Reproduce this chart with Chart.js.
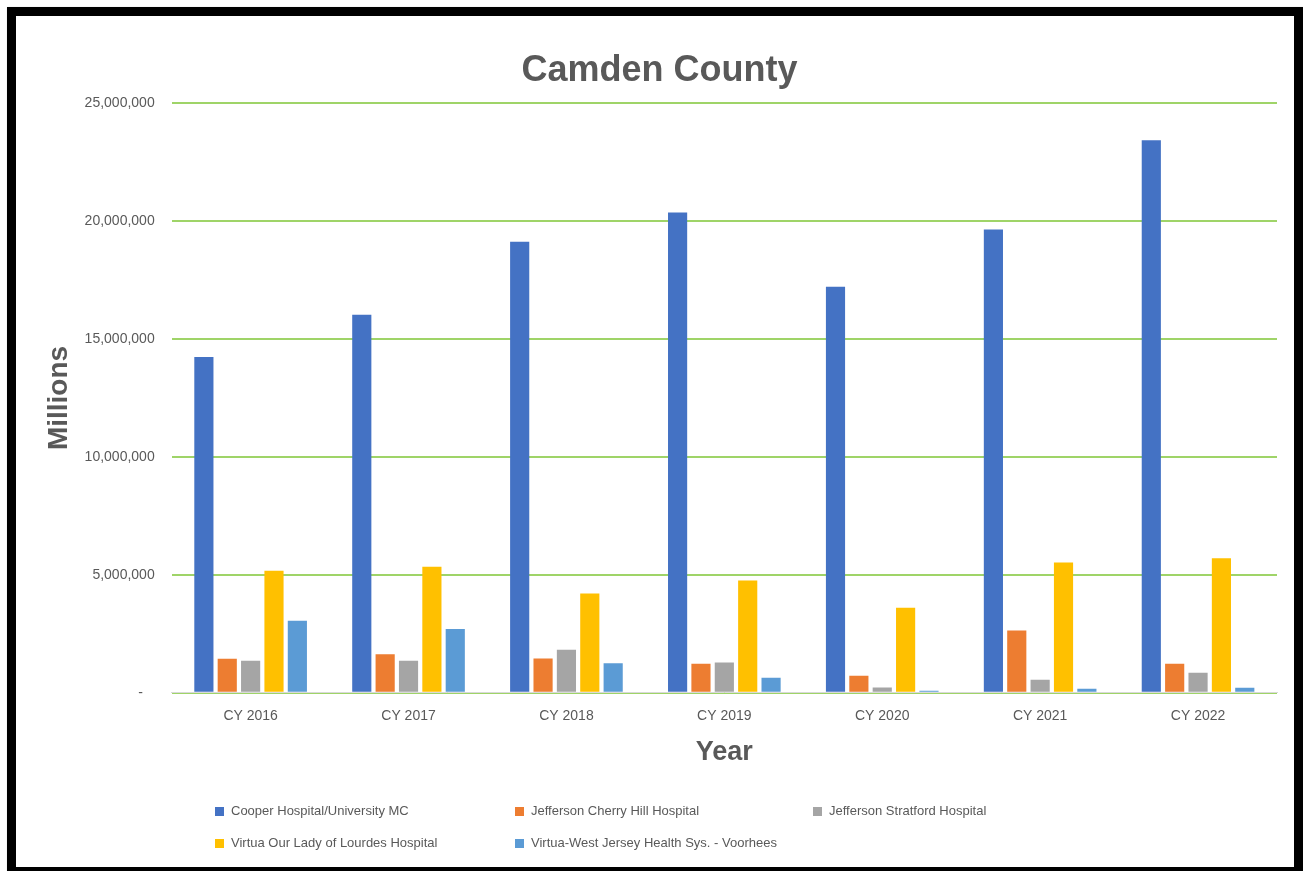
<!DOCTYPE html>
<html>
<head>
<meta charset="utf-8">
<script src="https://cdn.jsdelivr.net/npm/chart.js@4"></script>
<style>
  html, body { margin: 0; padding: 0; background: #fff; }
  #wrap { position: relative; width: 1303px; height: 871px; overflow: hidden; }
  #chart { position: absolute; left: 0; top: 0; }
  #frame {
    position: absolute; left: 7px; top: 7px; width: 1296px; height: 869px;
    box-sizing: border-box; border: 9px solid #000;
    box-shadow: 1px 1px 2px #888; pointer-events: none;
  }
  #legend { position: absolute; left: 0; top: 0; font: 13px "Liberation Sans", sans-serif; color: #595959; }
  .item { position: absolute; white-space: nowrap; line-height: 16px; }
  .item i { position: absolute; left: 0; top: 4px; width: 9px; height: 9px; }
  .item span { position: absolute; left: 16px; top: 0; }
</style>
</head>
<body>
<div id="wrap">
  <canvas id="chart" width="1303" height="871"></canvas>
  <div id="legend"></div>
  <div id="frame"></div>
</div>
<script>
const YEARS = ['CY 2016', 'CY 2017', 'CY 2018', 'CY 2019', 'CY 2020', 'CY 2021', 'CY 2022'];

const COOPER = [14240000, 16030000, 19130000, 20370000, 17220000, 19640000, 23430000];
const JEFF_CHERRY_HILL = [1440000, 1630000, 1450000, 1230000, 720000, 2640000, 1230000];
const JEFF_STRATFORD = [1360000, 1360000, 1830000, 1280000, 230000, 550000, 850000];
const LOURDES = [5180000, 5340000, 4210000, 4760000, 3610000, 5530000, 5700000];
const VOORHEES = [3060000, 2710000, 1250000, 640000, 90000, 170000, 210000];

const SERIES_NAMES = [
  'Cooper Hospital/University MC',
  'Jefferson Cherry Hill Hospital',
  'Jefferson Stratford Hospital',
  'Virtua Our Lady of Lourdes Hospital',
  'Virtua-West Jersey Health Sys. - Voorhees',
];
const COLORS = ['#4472c4', '#ed7d31', '#a5a5a5', '#ffc000', '#5b9bd5'];

const SERIES = [COOPER, JEFF_CHERRY_HILL, JEFF_STRATFORD, LOURDES, VOORHEES];
const GREY = '#595959';
const FONT = '"Liberation Sans", Arial, sans-serif';

const chart = new Chart(document.getElementById('chart'), {
  type: 'bar',
  data: {
    labels: YEARS,
    datasets: SERIES.map((values, i) => ({
      label: SERIES_NAMES[i],
      data: values,
      backgroundColor: COLORS[i],
      borderWidth: 0,
      categoryPercentage: 0.74,
      barPercentage: 0.82,
    })),
  },
  options: {
    responsive: false,
    animation: false,
    layout: { padding: { left: 42, right: 26, top: 0, bottom: 98 } },
    plugins: {
      legend: { display: false },
      tooltip: { enabled: false },
      title: {
        display: true,
        text: 'Camden County',
        color: GREY,
        font: { family: FONT, size: 36, weight: 'bold' },
        padding: { top: 49, bottom: 11 },
      },
    },
    scales: {
      x: {
        grid: { display: false, drawTicks: false },
        border: { color: '#d9d9d9', width: 1 },
        ticks: { color: GREY, font: { family: FONT, size: 14 }, padding: 15 },
        title: {
          display: true, text: 'Year', color: GREY,
          font: { family: FONT, size: 27, weight: 'bold' },
          padding: { top: -3, bottom: 4 },
        },
      },
      y: {
        min: 0,
        max: 25000000,
        grid: { color: '#9fd468', lineWidth: 2, drawTicks: false },
        border: { display: false },
        ticks: {
          stepSize: 5000000,
          color: GREY,
          font: { family: FONT, size: 14 },
          padding: 17,
          // accounting-style zero: dash sits a little left of the digits
          callback: (v) => (v === 0 ? '-   ' : v.toLocaleString('en-US')),
        },
        title: {
          display: true, text: 'Millions', color: GREY,
          font: { family: FONT, size: 28, weight: 'bold' },
          padding: { top: 0, bottom: -8 },
        },
      },
    },
  },
});

// legend laid out as a 3-column grid, as in the source
const legend = document.getElementById('legend');
const COLS = [215, 515, 813];
const ROWS = [803, 835];
chart.data.datasets.forEach((ds, i) => {
  const el = document.createElement('div');
  el.className = 'item';
  el.style.left = COLS[i % 3] + 'px';
  el.style.top = ROWS[Math.floor(i / 3)] + 'px';
  el.innerHTML = `<i style="background:${ds.backgroundColor}"></i><span>${ds.label}</span>`;
  legend.appendChild(el);
});
</script>
</body>
</html>
